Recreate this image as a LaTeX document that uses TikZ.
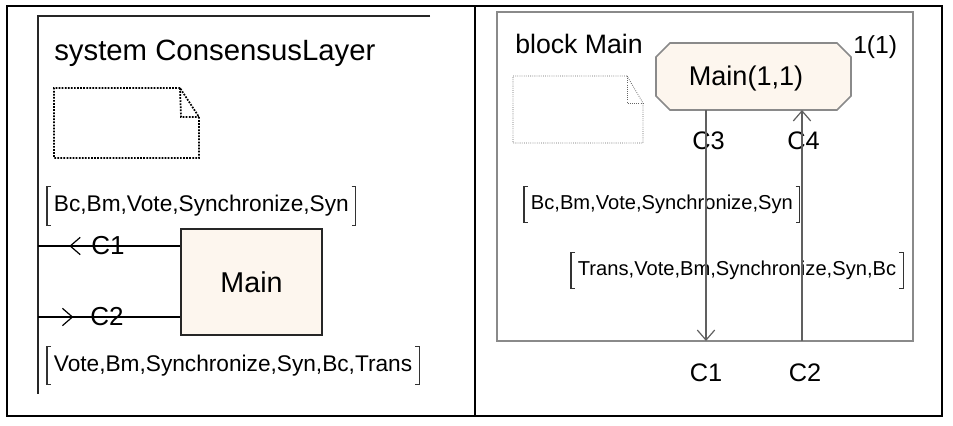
\documentclass[tikz,border=0pt]{standalone}
\usepackage{fontspec}
\setmainfont{Liberation Sans}
\usetikzlibrary{arrows.meta,decorations.markings}
\definecolor{cream}{HTML}{FDF6EE}
\definecolor{frgray}{HTML}{8A8A8A}
\definecolor{lngray}{HTML}{606060}
\newcommand\fs[1]{\fontsize{#1}{#1}\selectfont}
\newcommand\mybrk[1]{%
  \draw[brkline] ([xshift=3pt]#1.north west) -- (#1.north west) -- (#1.south west) -- ([xshift=3pt]#1.south west);
  \draw[brkline] ([xshift=-3pt]#1.north east) -- (#1.north east) -- (#1.south east) -- ([xshift=-3pt]#1.south east);}
\tikzset{barb/.tip={Straight Barb[length=7.5pt,width=13pt,line width=0.9pt]}}
\begin{document}
\begin{tikzpicture}[x=0.75pt,y=-0.75pt,
  border/.style={line width=2pt,black},
  lframe/.style={line width=1.6pt,black!85},
  conn/.style={line width=1.1pt,black},
  rconn/.style={line width=1.1pt,lngray},
  brkline/.style={line width=0.8pt,black!80},
  lbrk/.style={inner xsep=5pt,inner ysep=0pt,minimum height=28.5pt,anchor=west,font=\fs{17pt}},
  rbrk/.style={inner xsep=5pt,inner ysep=0pt,minimum height=27pt,anchor=west,font=\fs{15.1pt}},
  clab/.style={inner sep=0pt,font=\fs{19.5pt}},
  rclab/.style={inner sep=0pt,font=\fs{19pt}},
  notel/.style={densely dotted,line width=1.3pt,black},
  noter/.style={densely dotted,line width=0.6pt,black!60}]
\useasboundingbox (0,0) rectangle (953,425);
% outer table
\draw[border] (7,6) rectangle (942,416);
\draw[border] (475,6) -- (475,416);

% ---------- left panel ----------
\coordinate (ftl) at (38,16);
\coordinate (ftr) at (430,16);
\coordinate (fbl) at (38,394);
\draw[lframe] (ftr) -- (ftl) -- (fbl);
\node[inner sep=0pt,anchor=base west,font=\fs{22pt}] (title) at (54,60) {system ConsensusLayer};
\draw[notel] (180,88) -- (54,88) -- (54,158) -- (199,158) -- (199,117) -- cycle;
\draw[notel] (180,88) -- (181,117) -- (199,117);
\node[lbrk] (lb1) at (47,206) {Bc,Bm,Vote,Synchronize,Syn};
\mybrk{lb1}
\node[draw=black!85,line width=1.6pt,fill=cream,minimum width=141*0.75pt,minimum height=106*0.75pt,inner sep=0pt,font=\fs{21.5pt}] (main) at (251.5,282) {Main};
\coordinate (c1l) at (38,246);
\coordinate (c2l) at (38,317);
\node[clab] (c1lab) at (108,246) {C1};
\node[clab] (c2lab) at (107,317) {C2};
\draw[conn,postaction={decorate},decoration={markings,mark=at position 23.5pt with {\arrowreversed{barb}}}] (c1l) -- (main.west |- c1l);
\draw[conn,postaction={decorate},decoration={markings,mark=at position 26.5pt with {\arrow{barb}}}] (c2l) -- (main.west |- c2l);
\node[lbrk] (lb2) at (47,365.5) {Vote,Bm,Synchronize,Syn,Bc,Trans};
\mybrk{lb2}

% ---------- right panel ----------
\draw[line width=1.6pt,frgray] (497,12) rectangle (913,341);
\coordinate (rbot3) at (706,341);
\coordinate (rbot4) at (802,341);
\node[inner sep=0pt,anchor=base west,font=\fs{20pt}] (blk) at (515,53) {block Main};
\node[inner sep=0pt,anchor=base west,font=\fs{18.5pt}] (one) at (853,53) {1(1)};
\draw[noter] (627,76) -- (513,76) -- (513,143) -- (643,143) -- (643,103) -- cycle;
\draw[noter] (627,76) -- (627,103) -- (643,103);
\path[draw=frgray,line width=1.2pt,fill=cream]
  (670,43) -- (837,43) -- (851,57) -- (851,96) -- (837,110) -- (670,110) -- (656,96) -- (656,57) -- cycle;
\node[inner sep=0pt,font=\fs{20.3pt}] (inst) at (746,78) {Main(1,1)};
\coordinate (ob3) at (706,110);
\coordinate (ob4) at (802,110);
\node[rclab] (c3lab) at (708.5,141) {C3};
\node[rclab] (c4lab) at (803.5,141) {C4};
\node[rbrk] (rb1) at (524,204.5) {Bc,Bm,Vote,Synchronize,Syn};
\mybrk{rb1}
\node[rbrk] (rb2) at (571,270.5) {Trans,Vote,Bm,Synchronize,Syn,Bc};
\mybrk{rb2}
\draw[rconn,-{barb}] (ob3) -- (rbot3);
\draw[rconn,-{barb}] (rbot4) -- (ob4);
\node[rclab] (c1b) at (706,372.5) {C1};
\node[rclab] (c2b) at (805,372.5) {C2};
\end{tikzpicture}
\end{document}
